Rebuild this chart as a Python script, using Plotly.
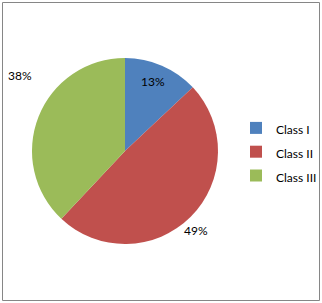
import plotly.graph_objects as go

# ---- data ----
labels = ["Class I", "Class II", "Class III"]
values = [13, 49, 38]
colors = ["#4F81BD", "#C0504D", "#9BBB59"]

W, H = 322, 303
FONT = "Lato"

# label anchor positions (pixels) for the percentage labels
label_px = [(153, 82), (196, 230), (20, 75)]

total = sum(values)
pct_text = [f"{round(v / total * 100)}%" for v in values]

fig = go.Figure(
    go.Pie(
        labels=[f'<span style="font-size:12px">{l}</span>' for l in labels],
        values=values,
        sort=False,
        direction="clockwise",
        rotation=0,
        marker=dict(colors=colors, line=dict(width=0)),
        textinfo="none",
        hoverinfo="label+percent",
        domain=dict(x=[32 / W, 218 / W], y=[(H - 244) / H, (H - 58) / H]),
    )
)

annotations = []
for t, (px, py) in zip(pct_text, label_px):
    annotations.append(
        dict(
            x=px / W, y=1 - py / H, xref="paper", yref="paper",
            text=t, showarrow=False, xanchor="center", yanchor="middle",
            font=dict(family=FONT, size=12, color="#000000"),
        )
    )

fig.update_layout(
    width=W, height=H,
    margin=dict(l=0, r=0, t=0, b=0),
    paper_bgcolor="white",
    plot_bgcolor="white",
    font=dict(family=FONT, size=12, color="#000000"),
    showlegend=True,
    legend=dict(
        x=236 / W, y=1 - 111 / H, xanchor="left", yanchor="top",
        font=dict(family=FONT, size=16, color="#000000"),
        bgcolor="rgba(0,0,0,0)",
        itemclick=False, itemdoubleclick=False,
    ),
    annotations=annotations,
    shapes=[
        dict(
            type="rect", xref="paper", yref="paper",
            x0=2.5 / W, x1=319.5 / W, y0=1 - 300.5 / H, y1=1 - 2.5 / H,
            line=dict(color="#868686", width=1),
            fillcolor="rgba(0,0,0,0)",
        )
    ],
)

fig.write_html("out.html")
